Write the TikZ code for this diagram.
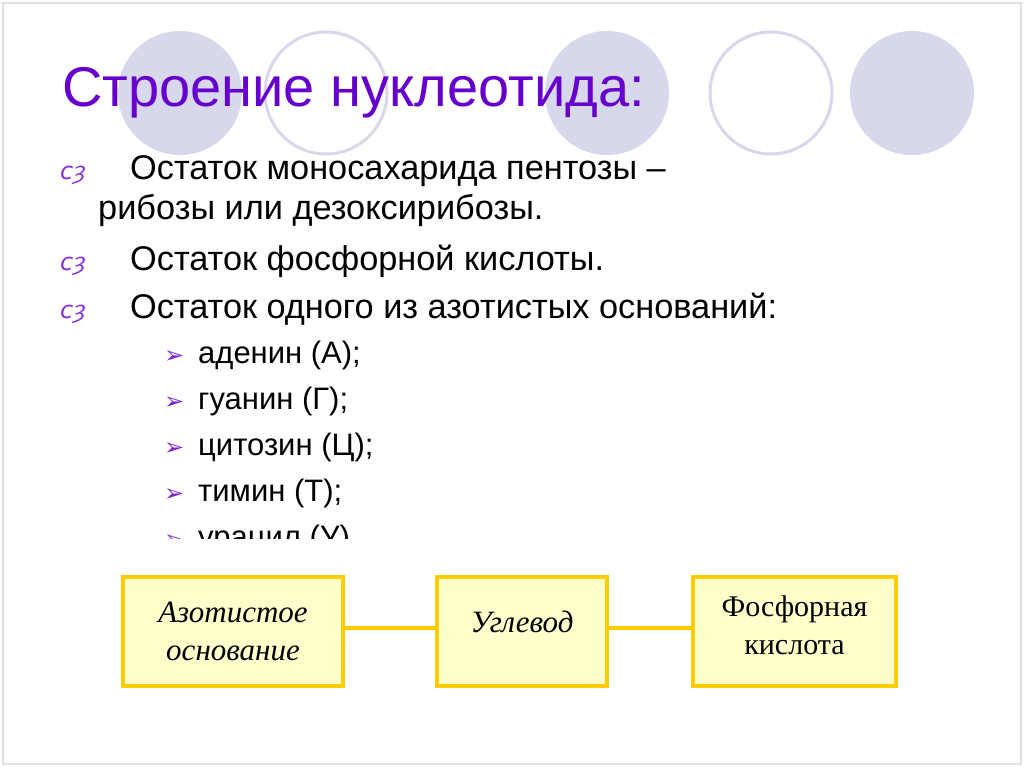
\documentclass[tikz,border=0pt]{standalone}
\usepackage{fontspec}
\setmainfont{Liberation Sans}
\newfontfamily\djv{DejaVu Sans}
\newfontfamily\tms{Liberation Serif}
\definecolor{ttl}{RGB}{102,0,204}
\definecolor{circ}{RGB}{216,216,236}
\definecolor{gold}{RGB}{255,204,0}
\definecolor{pale}{RGB}{255,255,204}
\begin{document}
\begin{tikzpicture}[x=1pt,y=-1pt,
  body/.style={anchor=base west,font=\fontsize{34.3}{36}\selectfont,inner sep=0},
  sub/.style={anchor=base west,font=\fontsize{31}{33}\selectfont,inner sep=0},
  orn/.style={anchor=base west,font=\djv\itshape\fontsize{24}{24}\selectfont,text=ttl!80,inner sep=0},
  arr/.style={anchor=base west,font=\djv\fontsize{24}{24}\selectfont,text=ttl!85,inner sep=0},
  boxy/.style={draw=gold,line width=4pt,fill=pale,inner sep=0},
  btxt/.style={font=\tms\itshape\fontsize{31}{38}\selectfont,align=center,inner sep=0},
  link/.style={draw=gold,line width=4pt}]
\useasboundingbox (0,0) rectangle (1024,767);
\fill[white] (0,0) rectangle (1024,767);
\draw[black!12,line width=1.5pt] (3,3) rectangle (1021,764);
\fill[circ] (180,93) circle[radius=62];
\draw[circ,line width=3pt,fill=white] (326,93) circle[radius=61];
\fill[circ] (607,93) circle[radius=62];
\draw[circ,line width=3pt,fill=white] (771,93) circle[radius=61];
\fill[circ] (912,93) circle[radius=62];
\node[anchor=base west,inner sep=0,text=ttl,font=\fontsize{56}{60}\selectfont] (title) at (62,107) {Строение нуклеотида:};
\node[orn] (o1) at (60,180) {cȝ};
\node[body] (t1) at (130,180) {Остаток моносахарида пентозы –};
\node[body] (t1b) at (98,220) {рибозы или дезоксирибозы.};
\node[orn] (o2) at (60,270) {cȝ};
\node[body] (t2) at (130,270) {Остаток фосфорной кислоты.};
\node[orn] (o3) at (60,318) {cȝ};
\node[body] (t3) at (130,318) {Остаток одного из азотистых оснований:};
\begin{scope}
\clip (0,0) rectangle (1024,538);
\foreach \y/\t [count=\i] in {363/аденин (А);,409/гуанин (Г);,455/цитозин (Ц);,501/тимин (Т);,547/урацил (У)} {
  \node[arr] (a\i) at (164,\y) {➢};
  \node[sub] (s\i) at (198,\y) {\t};
}
\end{scope}
\node[boxy,minimum width=220,minimum height=109] (b1) at (233,631.5) {};
\node[boxy,minimum width=170,minimum height=109] (b2) at (522,631.5) {};
\node[boxy,minimum width=203,minimum height=109] (b3) at (794.5,631.5) {};
\node[btxt] (b1t) at (b1) {Азотистое\\основание};
\node[btxt,anchor=center] (b2t) at (522,622) {Углевод};
\node[btxt,font=\tms\fontsize{30}{38}\selectfont] (b3t) at (794.5,625) {Фосфорная\\кислота};
\draw[link] (b1.east) ++(0,-4) coordinate (c1) -- (c1 -| b2.west);
\draw[link] (b2.east) ++(0,-4) coordinate (c2) -- (c2 -| b3.west);
\end{tikzpicture}
\end{document}
